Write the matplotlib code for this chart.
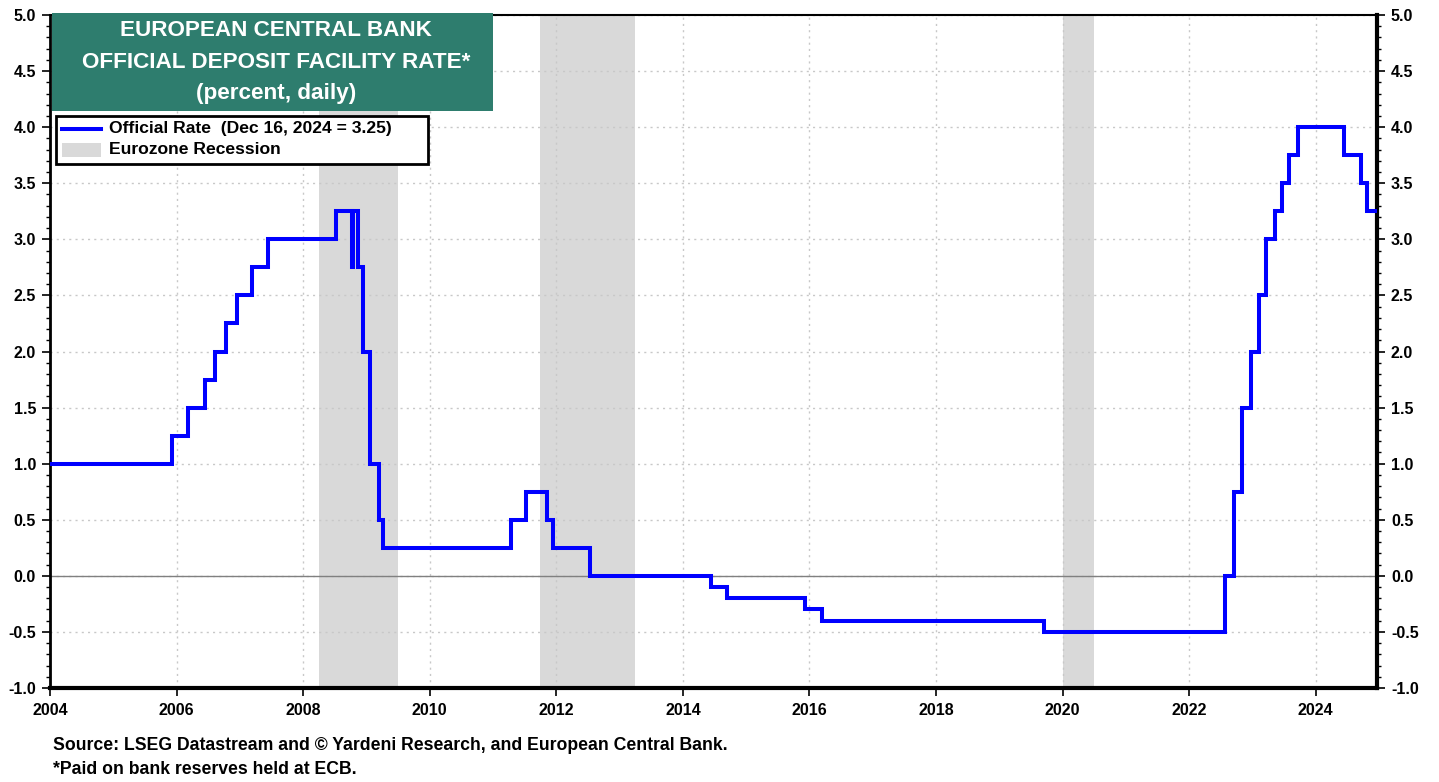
import matplotlib
matplotlib.use("Agg")
import matplotlib.pyplot as plt
import matplotlib.dates as mdates
from matplotlib.patches import Rectangle
from matplotlib.lines import Line2D
from matplotlib.ticker import MultipleLocator
import pandas as pd

plt.rcParams['font.family'] = ['Liberation Sans', 'DejaVu Sans']

# ECB deposit facility rate change dates and levels
change_dates = ["2004-01-01", "2005-12-06", "2006-03-08", "2006-06-15", "2006-08-09",
                "2006-10-11", "2006-12-13", "2007-03-14", "2007-06-13", "2008-07-09",
                "2008-10-09", "2008-10-15", "2008-11-12", "2008-12-10", "2009-01-21",
                "2009-03-11", "2009-04-08", "2011-04-13", "2011-07-13", "2011-11-09",
                "2011-12-14", "2012-07-11", "2014-06-11", "2014-09-10", "2015-12-09",
                "2016-03-16", "2019-09-18", "2022-07-27", "2022-09-14", "2022-11-02",
                "2022-12-21", "2023-02-08", "2023-03-22", "2023-05-10", "2023-06-21",
                "2023-08-02", "2023-09-20", "2024-06-12", "2024-09-18", "2024-10-23",
                "2024-12-16"]
rates = [1.00, 1.25, 1.50, 1.75, 2.00,
         2.25, 2.50, 2.75, 3.00, 3.25,
         2.75, 3.25, 2.75, 2.00, 1.00,
         0.50, 0.25, 0.50, 0.75, 0.50,
         0.25, 0.00, -0.10, -0.20, -0.30,
         -0.40, -0.50, 0.00, 0.75, 1.50,
         2.00, 2.50, 3.00, 3.25, 3.50,
         3.75, 4.00, 3.75, 3.50, 3.25,
         3.25]

recession_starts = ["2008-04-01", "2011-10-01", "2020-01-01"]
recession_ends = ["2009-06-30", "2013-03-31", "2020-06-30"]

x_tick_years = list(range(2004, 2025, 2))

W, H = 1439, 782
fig = plt.figure(figsize=(W / 100, H / 100), dpi=100)
ax = fig.add_axes([50 / W, 1 - 688 / H, (1377 - 50) / W, (688 - 15) / H])
ax.set_axisbelow(True)

dates = pd.to_datetime(change_dates)
for s, e in zip(recession_starts, recession_ends):
    ax.axvspan(pd.Timestamp(s), pd.Timestamp(e), color='#d9d9d9', lw=0, zorder=0)

ax.axhline(0, color='#808080', lw=1.0, zorder=1)
ax.plot(dates, rates, drawstyle='steps-post', color='#0000ff', lw=2.9, zorder=3,
        solid_joinstyle='miter')

ax.set_xlim(pd.Timestamp("2004-01-01"), pd.Timestamp("2024-12-20"))
ax.set_ylim(-1.0, 5.0)

ax.set_xticks([pd.Timestamp(f"{y}-01-01") for y in x_tick_years])
ax.set_xticklabels([str(y) for y in x_tick_years])
ax.yaxis.set_major_locator(MultipleLocator(0.5))
ax.yaxis.set_minor_locator(MultipleLocator(0.1))
ax.yaxis.set_major_formatter(plt.FuncFormatter(lambda v, p: f"{v:.1f}"))

ax.grid(True, which='major', color='#c8c8c8', ls=(0, (1.5, 3)), lw=1.0)

ax.tick_params(axis='y', which='both', left=True, right=True, labelleft=True, labelright=True,
               direction='out')
ax.tick_params(axis='y', which='major', length=6, width=1.2, labelsize=11.5, pad=4)
ax.tick_params(axis='y', which='minor', length=3, width=1.0)
ax.tick_params(axis='x', which='major', length=6, width=1.2, labelsize=11.5, pad=5)
for lab in ax.get_xticklabels():
    lab.set_fontweight('bold')
for t in ax.yaxis.get_major_ticks():
    t.label1.set_fontweight('bold')
    t.label2.set_fontweight('bold')

ax.spines['left'].set_linewidth(2.0)
ax.spines['bottom'].set_linewidth(3.0)
ax.spines['right'].set_linewidth(3.0)
ax.spines['top'].set_linewidth(1.5)

# Title box
tb = Rectangle((52 / W, 1 - 111 / H), (493 - 52) / W, (111 - 13) / H, transform=fig.transFigure,
               facecolor='#2e7d6e', edgecolor='none', zorder=5)
fig.patches.append(tb)
title_lines = ["EUROPEAN CENTRAL BANK", "OFFICIAL DEPOSIT FACILITY RATE*", "(percent, daily)"]
for line, yy in zip(title_lines, [31, 63, 94]):
    fig.text(276 / W, 1 - yy / H, line, ha='center', va='center', color='white',
             fontsize=16.2, fontweight='bold', zorder=6)

# Legend box
lb = Rectangle((56 / W, 1 - 164 / H), (428 - 56) / W, (164 - 116) / H, transform=fig.transFigure,
               facecolor='white', edgecolor='black', lw=2.0, zorder=5)
fig.patches.append(lb)
fig.lines.append(Line2D([62 / W, 101 / W], [1 - 129 / H, 1 - 129 / H], transform=fig.transFigure,
                        color='#0000ff', lw=2.9, zorder=6))
fig.patches.append(Rectangle((62 / W, 1 - 157 / H), (101 - 62) / W, 14 / H, transform=fig.transFigure,
                             facecolor='#d9d9d9', edgecolor='none', zorder=6))
fig.text(109 / W, 1 - 129 / H, "Official Rate  (Dec 16, 2024 = 3.25)", ha='left', va='center',
         fontsize=12.6, fontweight='bold', zorder=7)
fig.text(109 / W, 1 - 150 / H, "Eurozone Recession", ha='left', va='center',
         fontsize=12.6, fontweight='bold', zorder=7)

fig.text(53 / W, 1 - 745 / H, "Source: LSEG Datastream and \u00a9 Yardeni Research, and European Central Bank.",
         ha='left', va='center', fontsize=12.7, fontweight='bold')
fig.text(53 / W, 1 - 769 / H, "*Paid on bank reserves held at ECB.",
         ha='left', va='center', fontsize=12.7, fontweight='bold')

fig.savefig("out.png", dpi=100)
